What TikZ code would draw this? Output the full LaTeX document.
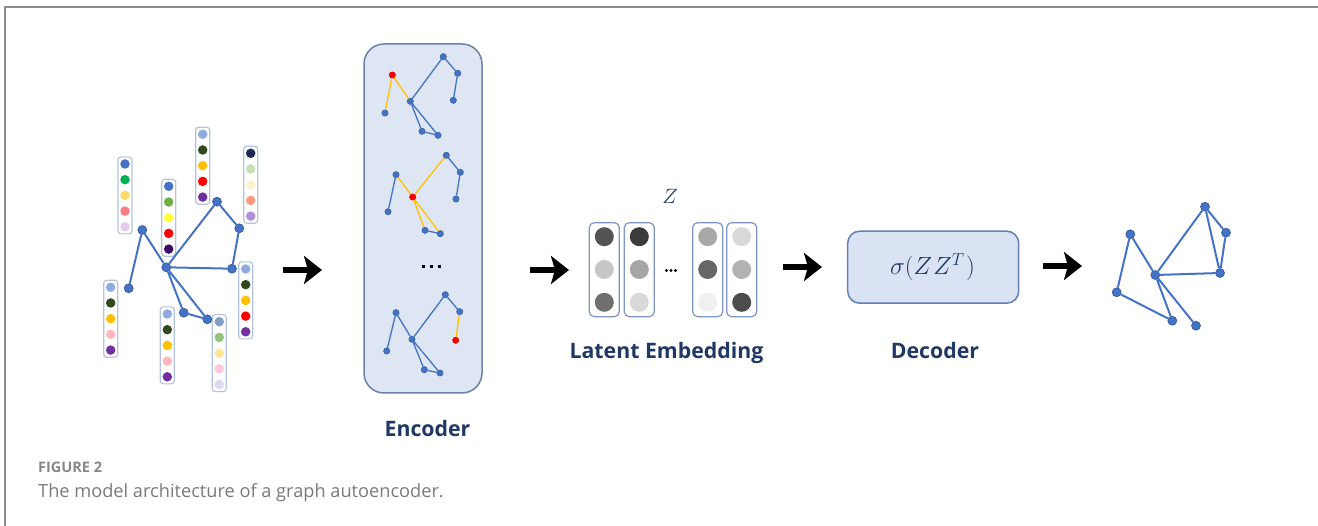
\documentclass[tikz,border=0pt]{standalone}
\usepackage{fontspec}
\setmainfont{Open Sans}
\usetikzlibrary{arrows.meta}

% palette
\definecolor{gblue}{HTML}{4472C4}
\definecolor{gedge}{HTML}{2F5597}
\definecolor{gyel}{HTML}{FFC000}
\definecolor{navy}{HTML}{1F3864}
\definecolor{boxfill}{HTML}{DEE6F4}
\definecolor{boxline}{HTML}{6C80AA}
\definecolor{decfill}{HTML}{DAE3F3}
\definecolor{decline}{HTML}{627FB6}
\definecolor{featline}{HTML}{B4C4E0}
\definecolor{latline}{HTML}{7F96C4}
\definecolor{capgray}{HTML}{7A7A7A}
\definecolor{framegray}{HTML}{8C8C8C}
% feature colours
\definecolor{fA}{HTML}{4472C4}
\definecolor{fB}{HTML}{00B050}
\definecolor{fC}{HTML}{FFD966}
\definecolor{fD}{HTML}{FF7C80}
\definecolor{fE}{HTML}{E2CCEE}
\definecolor{fF}{HTML}{70AD47}
\definecolor{fG}{HTML}{FFFF33}
\definecolor{fH}{HTML}{FF0000}
\definecolor{fI}{HTML}{3B0B6B}
\definecolor{fJ}{HTML}{8FAADC}
\definecolor{fK}{HTML}{2F4A1E}
\definecolor{fL}{HTML}{FFC000}
\definecolor{fM}{HTML}{7030A0}
\definecolor{fN}{HTML}{1C2A55}
\definecolor{fO}{HTML}{C5E0B4}
\definecolor{fP}{HTML}{FFF2CC}
\definecolor{fQ}{HTML}{FF9980}
\definecolor{fR}{HTML}{B48FDC}
\definecolor{fS}{HTML}{FFB6BC}
\definecolor{fT}{HTML}{7FA0C0}
\definecolor{fU}{HTML}{93C47D}
\definecolor{fV}{HTML}{FFE699}
\definecolor{fW}{HTML}{FFC7D9}
\definecolor{fX}{HTML}{DCD8EE}

\tikzset{
  gnode/.style={circle, fill=gblue, draw=gedge, line width=0.6pt, inner sep=0pt, minimum size=9pt},
  snode/.style={circle, fill=gblue, draw=gedge, line width=0.4pt, inner sep=0pt, minimum size=6.4pt},
  rnode/.style={snode, fill=red, draw=red!80!black},
  gline/.style={gblue, line width=2pt},
  sline/.style={gblue, line width=1.3pt},
  yline/.style={gyel, line width=1.3pt},
  featframe/.style={draw=featline, line width=1.2pt, fill=white, rounded corners=3pt, minimum width=14pt, minimum height=77pt, inner sep=0pt},
  fdot/.style={circle, inner sep=0pt, minimum size=9.5pt},
  latframe/.style={draw=latline, line width=1.2pt, fill=white, rounded corners=5pt, minimum width=30pt, minimum height=94pt, inner sep=0pt},
  ldot/.style={circle, inner sep=0pt, minimum size=19pt},
  tinydot/.style={circle, fill=black, inner sep=0pt, minimum size=3.4pt},
  bigarrow/.style={line width=5.6pt, -{Stealth[length=18pt, width=28pt, inset=4pt]}},
  stagelabel/.style={text=navy, font=\fontsize{21.3}{25}\selectfont\bfseries, anchor=base},
}

% feature column: name, x, first dot y, five colours
\newcommand{\featcol}[8]{%
  \node[featframe] (#1) at (#2,#3+31.4) {};
  \node[fdot, fill=#4] (#1-1) at (#2,#3) {};
  \node[fdot, fill=#5] (#1-2) at (#2,#3+15.7) {};
  \node[fdot, fill=#6] (#1-3) at (#2,#3+31.4) {};
  \node[fdot, fill=#7] (#1-4) at (#2,#3+47.1) {};
  \node[fdot, fill=#8] (#1-5) at (#2,#3+62.8) {};
}
% latent column: name, x, three grey levels
\newcommand{\latcol}[5]{%
  \node[latframe] (#1) at (#2,269.7) {};
  \node[ldot, fill=black!#3] (#1-1) at (#2,236.7) {};
  \node[ldot, fill=black!#4] (#1-2) at (#2,269.5) {};
  \node[ldot, fill=black!#5] (#1-3) at (#2,302.3) {};
}

\begin{document}
\begin{tikzpicture}[x=1pt, y=-1pt]
\useasboundingbox (0,0) rectangle (1318,526);

% page frame
\draw[framegray, line width=2pt] (4.5,526) -- (4.5,6.8) -- (1318,6.8);

% ---------- input graph with node features ----------
\featcol{fa}{125}{164}{fA}{fB}{fC}{fD}{fE}
\featcol{fb}{168.7}{186.3}{fA}{fF}{fG}{fH}{fI}
\featcol{fc}{202.7}{134.3}{fJ}{fK}{fL}{fH}{fM}
\featcol{fd}{250.7}{153.3}{fN}{fO}{fP}{fQ}{fR}
\featcol{fe}{245.7}{269}{fJ}{fK}{fL}{fH}{fM}
\featcol{ff}{110.7}{287.3}{fJ}{fK}{fL}{fS}{fM}
\featcol{fg}{167.3}{314}{fJ}{fK}{fL}{fS}{fM}
\featcol{fh}{219.3}{321.7}{fT}{fU}{fV}{fW}{fX}

\node[gnode] (i1) at (142.3,230) {};
\node[gnode] (i2) at (128.7,288.3) {};
\node[gnode] (ic) at (166.3,267.3) {};
\node[gnode] (i3) at (217,201.7) {};
\node[gnode] (i4) at (239.3,228.3) {};
\node[gnode] (i5) at (232,268.7) {};
\node[gnode] (i6) at (183.7,312.7) {};
\node[gnode] (i7) at (207.3,319.3) {};
\draw[gline] (i2) -- (i1) -- (ic) -- (i3) -- (i4) -- (i5) -- (ic)
             (ic) -- (i6) -- (i7) -- (ic);

% ---------- encoder ----------
\node[draw=boxline, fill=boxfill, line width=1.5pt, rounded corners=20pt,
      minimum width=118pt, minimum height=349pt, inner sep=0pt] (enc) at (423,218.5) {};

% first neighbourhood
\node[rnode] (a0) at (392.3,75) {};
\node[snode] (a1) at (443.3,56.7) {};
\node[snode] (a2) at (457.7,73.3) {};
\node[snode] (a3) at (453.3,100.3) {};
\node[snode] (ac) at (410.3,101.3) {};
\node[snode] (al) at (385,113) {};
\node[snode] (a4) at (422,131.3) {};
\node[snode] (a5) at (438,135.3) {};
\draw[yline] (al) -- (a0) -- (ac);
\draw[sline] (ac) -- (a1) -- (a2) -- (a3) (ac) -- (a4) -- (a5) -- (ac);

% second neighbourhood
\node[snode] (b0) at (396,174.7) {};
\node[snode] (bl) at (388,211.7) {};
\node[rnode] (bc) at (412.7,197) {};
\node[snode] (b1) at (446.3,155.3) {};
\node[snode] (b2) at (460.3,172.3) {};
\node[snode] (b3) at (456,199) {};
\node[snode] (b4) at (425,230.3) {};
\node[snode] (b5) at (440.3,233.7) {};
\draw[sline] (b0) -- (bl) (b1) -- (b2) -- (b3) (b4) -- (b5);
\draw[yline] (b0) -- (bc) -- (b1) (bc) -- (b4) (bc) -- (b5);

% ellipsis
\foreach \k/\xx in {1/423.3, 2/431.3, 3/439.3}
  \node[fill=black, inner sep=0pt, minimum size=3.6pt] (edot\k) at (\xx,266.7) {};

% last neighbourhood
\node[snode] (c0) at (396,312.7) {};
\node[snode] (cl) at (386.7,351) {};
\node[snode] (cc) at (412,339.3) {};
\node[snode] (c1) at (445.3,294.7) {};
\node[snode] (c2) at (459.7,311.7) {};
\node[rnode] (c3) at (455.7,340.3) {};
\node[snode] (c4) at (424.3,369.7) {};
\node[snode] (c5) at (440,373) {};
\draw[sline] (cl) -- (c0) -- (cc) -- (c1) -- (c2) (cc) -- (c4) -- (c5) -- (cc);
\draw[yline] (c2) -- (c3);

\node[stagelabel] (enclab) at (427.5,437) {Encoder};

% ---------- latent embedding ----------
\node[text=navy, font=\fontsize{21}{25}\selectfont, anchor=base] (zlab) at (670,204) {$Z$};
\latcol{z1}{604.3}{67}{22}{56}
\latcol{z2}{639.3}{77}{35}{15}
\latcol{z3}{707.7}{34}{60}{6}
\latcol{z4}{741.7}{15}{30}{70}
\foreach \k/\xx in {1/666.5, 2/671, 3/675.5}
  \node[tinydot] (zdot\k) at (\xx,270.5) {};
\node[stagelabel] (latlab) at (666.5,359) {Latent Embedding};

% ---------- decoder ----------
\node[draw=decline, fill=decfill, line width=1.5pt, rounded corners=12pt,
      minimum width=171pt, minimum height=72pt, inner sep=0pt] (dec) at (933.2,267.2) {};
\node[text=navy, font=\fontsize{25}{29}\selectfont, anchor=base] (declab) at (932.5,274.5)
      {$\sigma(Z\mkern1mu Z^{T}\mkern1mu)$};
\node[stagelabel] (decname) at (935,359) {Decoder};

% ---------- reconstructed graph ----------
\node[gnode] (o1) at (1130.3,234.3) {};
\node[gnode] (o2) at (1116.7,292.3) {};
\node[gnode] (oc) at (1155.3,275) {};
\node[gnode] (o3) at (1205,206.7) {};
\node[gnode] (o4) at (1226,232.7) {};
\node[gnode] (o5) at (1220,273) {};
\node[gnode] (o6) at (1172.3,320.7) {};
\node[gnode] (o7) at (1196,325.7) {};
\draw[gline] (o2) -- (o1) -- (oc) -- (o3) -- (o4) -- (o5) -- (oc)
             (o3) -- (o5) (o2) -- (o6) -- (oc) -- (o7);

% ---------- stage arrows ----------
\coordinate (p1s) at (283,270); \coordinate (p1e) at (322,270);
\coordinate (p2s) at (530,270); \coordinate (p2e) at (569,270);
\coordinate (p3s) at (783,267); \coordinate (p3e) at (822,267);
\coordinate (p4s) at (1043,266); \coordinate (p4e) at (1082,266);
\draw[bigarrow] (p1s) -- (p1e);
\draw[bigarrow] (p2s) -- (p2e);
\draw[bigarrow] (p3s) -- (p3e);
\draw[bigarrow] (p4s) -- (p4e);

% ---------- caption ----------
\node[anchor=base west, inner sep=0pt, text=capgray!90, font=\fontsize{14.5}{17}\selectfont\bfseries] (capnum) at (38,472.5) {FIGURE 2};
\node[anchor=base west, inner sep=0pt, text=capgray, font=\fontsize{18.2}{21}\selectfont] (captext) at (38,497) {The model architecture of a graph autoencoder.};
\end{tikzpicture}
\end{document}
